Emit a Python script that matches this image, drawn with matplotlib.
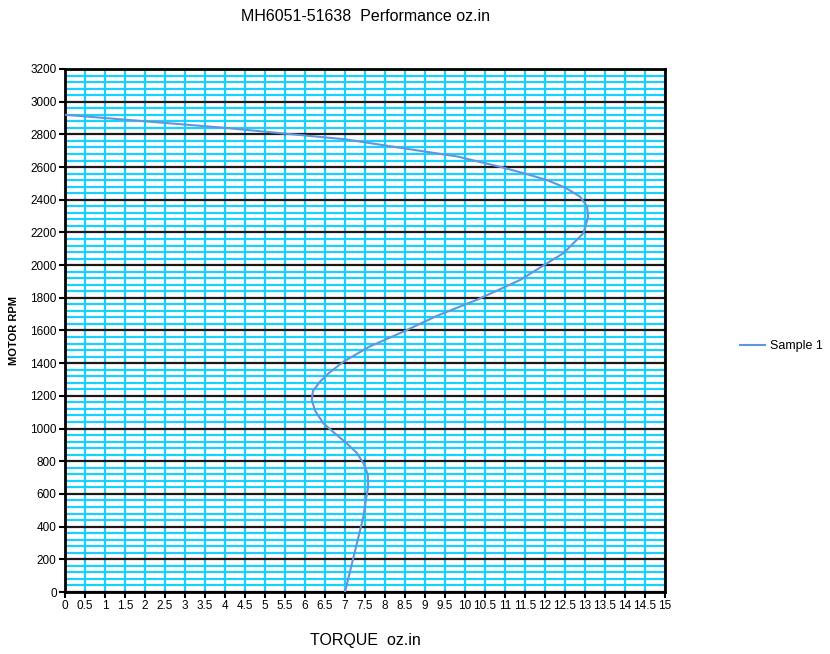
import matplotlib.pyplot as plt
from matplotlib.ticker import MultipleLocator

plt.rcParams['font.family'] = ['Liberation Sans', 'DejaVu Sans']

# values (torque oz.in, motor rpm)
torque = [0.0, 1.5, 2.5, 4.0, 5.4, 7.0, 8.46, 9.8, 10.92, 11.5, 12.04,
          12.5, 12.875, 13.05, 13.08, 12.96, 12.46, 11.375, 10.29, 9.3,
          8.46, 7.6, 6.96, 6.6, 6.375, 6.2, 6.17, 6.25, 6.46, 6.75, 7.04,
          7.3, 7.46, 7.57, 7.58, 7.52, 7.46, 7.3, 7.15, 7.0]
rpm = [2920, 2890, 2870, 2840, 2807, 2770, 2715, 2665, 2599, 2560, 2521,
       2475, 2419, 2360, 2297, 2195, 2073, 1909, 1787, 1690,
       1593, 1500, 1409, 1340, 1287, 1230, 1175, 1110, 1032, 970, 910,
       850, 788, 720, 644, 560, 461, 300, 150, 0]

x_ticks = [i * 0.5 for i in range(31)]
x_labels = ['%g' % v for v in x_ticks]
y_ticks = list(range(0, 3201, 200))

fig = plt.figure(figsize=(8.3, 6.54), dpi=100)
ax = fig.add_axes([0.0783, 0.0948, 0.7229, 0.7997])

cyan = '#19d0ff'
ax.set_xlim(0, 15)
ax.set_ylim(0, 3200)
ax.set_xticks(x_ticks)
ax.set_xticklabels(x_labels, fontsize=8.5)
ax.set_yticks(y_ticks)
ax.tick_params(axis='y', labelsize=8.5)
ax.yaxis.set_minor_locator(MultipleLocator(40))
ax.tick_params(which='major', direction='out', length=4, width=1.5, color='black', pad=2)
ax.tick_params(which='minor', length=0)

ax.grid(axis='x', which='major', color=cyan, lw=1.6, zorder=1)
ax.grid(axis='y', which='minor', color=cyan, lw=1.6, zorder=1)
ax.grid(axis='y', which='major', color='#1a1a1a', lw=1.6, zorder=2)
ax.set_axisbelow(True)

for s in ax.spines.values():
    s.set_linewidth(2)
    s.set_color('black')

ax.plot(torque, rpm, color='#6495dc', lw=1.5, label='Sample 1', zorder=3)

ax.set_xlabel('TORQUE  oz.in', fontsize=11.5, labelpad=15)
ax.set_ylabel('MOTOR RPM', fontsize=8, fontweight='bold', labelpad=8)
fig.text(0.44, 0.975, 'MH6051-51638  Performance oz.in', fontsize=11.5,
         ha='center', va='center')

ax.legend(loc='center left', bbox_to_anchor=(1.107, 0.47), frameon=False,
          fontsize=9, handlelength=2.0, handletextpad=0.4)

fig.savefig('out.png', dpi=100)
